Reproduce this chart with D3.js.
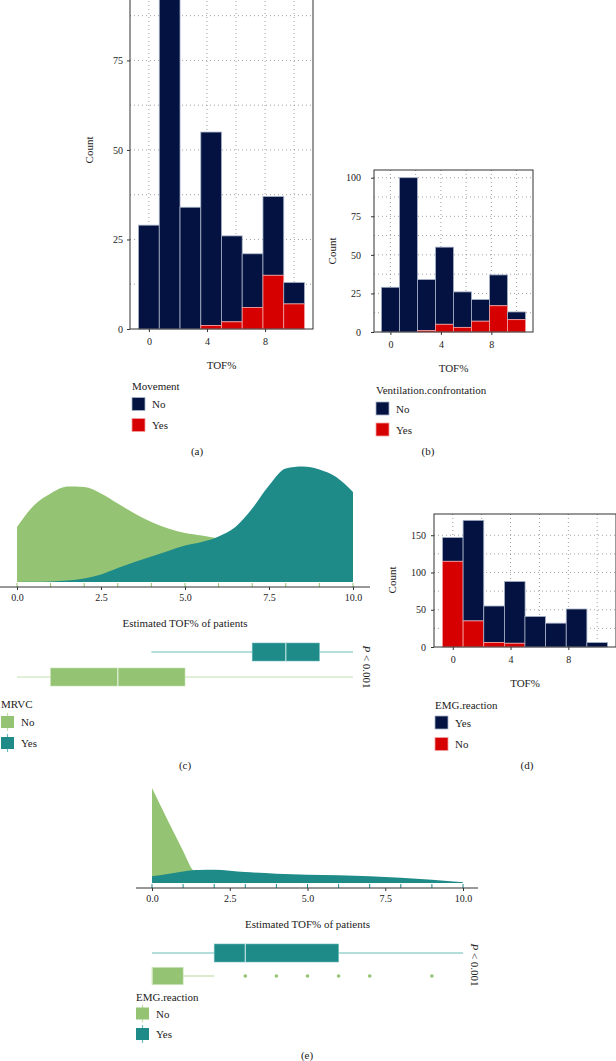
<!DOCTYPE html>
<html><head><meta charset="utf-8">
<script src="https://cdn.jsdelivr.net/npm/d3@7"></script>
<style>
body{margin:0;background:#fff}
svg{display:block}
text{font-family:"Liberation Serif","DejaVu Serif",serif;fill:#222}
</style>
</head><body>
<svg id="c" width="616" height="1061"></svg>
<script>
// ---------- data ----------
const binCenters = [0, 1.43, 2.86, 4.29, 5.71, 7.14, 8.57, 10];
const binWidth = 1.43;
const movementNo  = [29, 100, 34, 54, 24, 15, 22, 6];
const movementYes = [0, 0, 0, 1, 2, 6, 15, 7];
const ventNo  = [29, 100, 33, 50, 23, 14, 20, 5];
const ventYes = [0, 0, 1, 5, 3, 7, 17, 8];
const emgRedNo   = [115, 35, 6, 5, 0, 0, 0, 0];
const emgNavyYes = [32, 135, 49, 83, 41, 32, 51, 6];
const histXTicks = [0, 4, 8];
const histGridX = [0, 2, 4, 6, 8, 10];

const densXTicks = [0, 2.5, 5, 7.5, 10];
const rugValues = [0, 1, 2, 3, 4, 5, 6, 7, 8, 9, 10];

const mrvcX   = [0, 0.5, 1, 1.5, 2, 2.5, 3, 3.5, 4, 4.5, 5, 5.5, 6, 6.5, 7, 7.5, 8, 8.5, 9, 9.5, 10];
const mrvcNo  = [0.110, 0.153, 0.177, 0.191, 0.190, 0.177, 0.157, 0.137, 0.120, 0.107, 0.098, 0.093, 0.087, 0.080, 0.073, 0.069, 0.067, 0.065, 0.063, 0.061, 0.060];
const mrvcYes = [0, 0.0003, 0.001, 0.003, 0.007, 0.015, 0.028, 0.040, 0.051, 0.062, 0.073, 0.080, 0.091, 0.110, 0.147, 0.193, 0.227, 0.231, 0.225, 0.210, 0.180];
const mrvcBoxNo  = [0, 1, 3, 5, 10];
const mrvcBoxYes = [4, 7, 8, 9, 10];

const emgX   = [0, 0.5, 1, 1.3, 1.5, 2, 2.5, 3, 4, 5, 6, 7, 8, 9, 10];
const emgNo  = [0.95, 0.63, 0.32, 0.134, 0.08, 0.04, 0.02, 0.01, 0.005, 0.003, 0.002, 0.001, 0.001, 0.001, 0.001];
const emgYes = [0.067, 0.09, 0.115, 0.127, 0.13, 0.133, 0.123, 0.11, 0.093, 0.083, 0.077, 0.067, 0.053, 0.033, 0.007];
const emgBoxNo  = [0, 0, 0, 1, 2];
const emgBoxYes = [0, 2, 3, 6, 10];
const emgOutliersNo = [3, 4, 5, 6, 7, 9];

// ---------- styles ----------
const NAVY = "#031241", RED = "#d60000";
const GREEN = "#94c473", TEAL = "#1f8b89";
const svg = d3.select("#c");
svg.append("rect").attr("width", 616).attr("height", 1061).attr("fill", "#fff");

function txt(x, y, s, opts = {}) {
  const t = svg.append("text").attr("x", x).attr("y", y)
    .attr("font-size", opts.size || 11)
    .attr("text-anchor", opts.anchor || "start")
    .attr("dominant-baseline", "central")
    .text(s);
  if (opts.rotate) t.attr("transform", `rotate(${opts.rotate},${x},${y})`);
  return t;
}

function histogram(cfg) {
  const g = svg.append("g");
  const x = d3.scaleLinear().domain([-1.3, 11.3]).range([cfg.left, cfg.right]);
  const y = d3.scaleLinear().domain([0, cfg.ymax]).range([cfg.bottom, cfg.top]);
  g.selectAll(".vg").data(histGridX).join("line")
    .attr("x1", d => x(d)).attr("x2", d => x(d))
    .attr("y1", cfg.top).attr("y2", cfg.bottom)
    .attr("stroke", "#888").attr("stroke-width", 0.8).attr("stroke-dasharray", "1,3");
  g.selectAll(".hg").data(cfg.gridY).join("line")
    .attr("x1", cfg.left).attr("x2", cfg.right)
    .attr("y1", d => y(d)).attr("y2", d => y(d))
    .attr("stroke", "#888").attr("stroke-width", 0.8).attr("stroke-dasharray", "1,3");
  const bw = x(binWidth) - x(0);
  binCenters.forEach((c, i) => {
    const b = cfg.bottomSeries[i], t = cfg.topSeries[i];
    if (t > 0) g.append("rect").attr("x", x(c) - bw / 2).attr("width", bw)
      .attr("y", y(b + t)).attr("height", y(b) - y(b + t))
      .attr("fill", NAVY).attr("stroke", "#a8b3c8").attr("stroke-width", 0.8);
    if (b > 0) g.append("rect").attr("x", x(c) - bw / 2).attr("width", bw)
      .attr("y", y(b)).attr("height", y(0) - y(b))
      .attr("fill", RED).attr("stroke", "#f4a0a0").attr("stroke-width", 0.8);
  });
  g.append("rect").attr("x", cfg.left).attr("y", cfg.top)
    .attr("width", cfg.right - cfg.left).attr("height", cfg.bottom - cfg.top)
    .attr("fill", "none").attr("stroke", "#333").attr("stroke-width", 1);
  const ya = g.append("g").attr("transform", `translate(${cfg.left},0)`)
    .call(d3.axisLeft(y).tickValues(cfg.yTicks).tickSize(3).tickPadding(cfg.yPad || 4));
  const xa = g.append("g").attr("transform", `translate(0,${cfg.bottom})`)
    .call(d3.axisBottom(x).tickValues(histXTicks).tickSize(3).tickPadding(6));
  [ya, xa].forEach(a => {
    a.select(".domain").remove();
    a.selectAll("text").attr("font-size", 10).attr("font-family", "Liberation Serif").attr("fill", "#222");
    a.selectAll("line").attr("stroke", "#333");
  });
  txt((cfg.left + cfg.right) / 2, cfg.xTitleY, "TOF%", { anchor: "middle" });
  txt(cfg.countX, cfg.countY, "Count", { anchor: "middle", rotate: -90 });
}

function histLegend(x, yTitle, title, items) {
  txt(x, yTitle, title);
  items.forEach(it => {
    svg.append("rect").attr("x", x).attr("y", it.cy - 6.5).attr("width", 13).attr("height", 13)
      .attr("fill", it.color).attr("stroke", it.stroke).attr("stroke-width", 0.8);
    txt(x + 20, it.cy, it.label);
  });
}

// (a)
histogram({ left: 130, right: 313, top: -47, bottom: 329, ymax: 105,
  yTicks: [0, 25, 50, 75], gridY: [12.5, 25, 37.5, 50, 62.5, 75, 87.5, 100],
  bottomSeries: movementYes, topSeries: movementNo, xTitleY: 365, countX: 89, countY: 150 });
histLegend(132, 386, "Movement", [
  { cy: 404, color: NAVY, stroke: "#a8b3c8", label: "No" },
  { cy: 425, color: RED, stroke: "#f4a0a0", label: "Yes" }]);
txt(197, 451, "(a)", { anchor: "middle" });

// (b)
histogram({ left: 374, right: 533, top: 170, bottom: 332, ymax: 105,
  yTicks: [0, 25, 50, 75, 100], gridY: [12.5, 25, 37.5, 50, 62.5, 75, 87.5, 100], yPad: 10,
  bottomSeries: ventYes, topSeries: ventNo, xTitleY: 368, countX: 332, countY: 251 });
histLegend(376, 390, "Ventilation.confrontation", [
  { cy: 408.5, color: NAVY, stroke: "#a8b3c8", label: "No" },
  { cy: 429.5, color: RED, stroke: "#f4a0a0", label: "Yes" }]);
txt(428, 451, "(b)", { anchor: "middle" });

// (d)
histogram({ left: 434, right: 616, top: 514, bottom: 647, ymax: 178.5,
  yTicks: [0, 50, 100, 150], gridY: [25, 50, 75, 100, 125, 150], yPad: 5,
  bottomSeries: emgRedNo, topSeries: emgNavyYes, xTitleY: 683, countX: 392, countY: 580 });
histLegend(435, 705, "EMG.reaction", [
  { cy: 722.5, color: NAVY, stroke: "#a8b3c8", label: "Yes" },
  { cy: 744, color: RED, stroke: "#f4a0a0", label: "No" }]);
txt(527, 765, "(d)", { anchor: "middle" });

// ---------- density + boxplot panels ----------
function densityPanel(cfg) {
  const g = svg.append("g");
  const x = d3.scaleLinear().domain([0, 10]).range([cfg.x0, cfg.x1]);
  const y = d3.scaleLinear().domain([0, cfg.ymax]).range([cfg.base, cfg.base - cfg.ymax * cfg.pxPerUnit]);
  const area = (xs) => d3.area().x((d, i) => x(xs[i])).y0(y(0)).y1(d => y(d)).curve(d3.curveMonotoneX);
  g.append("path").datum(cfg.noVals).attr("d", area(cfg.xs)).attr("fill", GREEN);
  g.append("path").datum(cfg.yesVals).attr("d", area(cfg.xs)).attr("fill", TEAL);
  // rug
  g.selectAll(".rug").data(rugValues).join("line")
    .attr("x1", d => x(d)).attr("x2", d => x(d))
    .attr("y1", cfg.axisY - 4).attr("y2", cfg.axisY)
    .attr("stroke", cfg.rugColor).attr("stroke-width", 1);
  g.append("line").attr("x1", cfg.axisL).attr("x2", cfg.axisR)
    .attr("y1", cfg.axisY).attr("y2", cfg.axisY).attr("stroke", "#333").attr("stroke-width", 1);
  const xa = g.append("g").attr("transform", `translate(0,${cfg.axisY})`)
    .call(d3.axisBottom(x).tickValues(densXTicks).tickFormat(d3.format(".1f")).tickSize(3).tickPadding(4));
  xa.select(".domain").remove();
  xa.selectAll("text").attr("font-size", 10).attr("font-family", "Liberation Serif").attr("fill", "#222");
  xa.selectAll("line").attr("stroke", "#333");
  txt((cfg.x0 + cfg.x1) / 2, cfg.titleY, "Estimated TOF% of patients", { anchor: "middle" });

  // boxplots
  function box(stats, cy, h, fill, wcol, mcol) {
    g.append("line").attr("x1", x(stats[0])).attr("x2", x(stats[1])).attr("y1", cy).attr("y2", cy)
      .attr("stroke", wcol).attr("stroke-width", 1.2);
    g.append("line").attr("x1", x(stats[3])).attr("x2", x(stats[4])).attr("y1", cy).attr("y2", cy)
      .attr("stroke", wcol).attr("stroke-width", 1.2);
    g.append("rect").attr("x", x(stats[1])).attr("width", Math.max(x(stats[3]) - x(stats[1]), 0))
      .attr("y", cy - h / 2).attr("height", h).attr("fill", fill)
      .attr("stroke", wcol).attr("stroke-width", 0.6);
    g.append("line").attr("x1", x(stats[2])).attr("x2", x(stats[2]))
      .attr("y1", cy - h / 2).attr("y2", cy + h / 2).attr("stroke", mcol).attr("stroke-width", 1.2);
  }
  box(cfg.boxYes, cfg.yesY, 18, TEAL, "#6bbdba", "#bfe3e1");
  box(cfg.boxNo, cfg.noY, cfg.noH || 18, GREEN, "#c2e0ae", "#e6f3dc");
  if (cfg.outliers) g.selectAll(".out").data(cfg.outliers).join("circle")
    .attr("cx", d => x(d)).attr("cy", cfg.noY).attr("r", 1.8).attr("fill", GREEN);

  const p = svg.append("text").attr("x", cfg.pX).attr("y", cfg.pY)
    .attr("font-size", 11).attr("text-anchor", "middle").attr("dominant-baseline", "central")
    .attr("transform", `rotate(90,${cfg.pX},${cfg.pY})`);
  p.append("tspan").attr("font-style", "italic").text("P");
  p.append("tspan").text(" < 0.001");

  // legend
  txt(cfg.legX, cfg.legTitleY, cfg.legTitle);
  [[cfg.legNoY, GREEN, "#c2e0ae", "No"], [cfg.legYesY, TEAL, "#6bbdba", "Yes"]].forEach(([cy, f, l, lab]) => {
    svg.append("line").attr("x1", cfg.legX + 6.5).attr("x2", cfg.legX + 6.5)
      .attr("y1", cy - 9).attr("y2", cy + 9).attr("stroke", l).attr("stroke-width", 1.2);
    svg.append("rect").attr("x", cfg.legX).attr("y", cy - 6).attr("width", 13).attr("height", 12).attr("fill", f);
    txt(cfg.legX + 20, cy, lab);
  });
}

// (c)
densityPanel({ x0: 17, x1: 353, base: 582, ymax: 0.25, pxPerUnit: 500,
  xs: mrvcX, noVals: mrvcNo, yesVals: mrvcYes, rugColor: GREEN,
  axisY: 587, axisL: 0, axisR: 370, titleY: 623,
  boxNo: mrvcBoxNo, boxYes: mrvcBoxYes, yesY: 652, noY: 677,
  pX: 367, pY: 667,
  legX: 1, legTitle: "MRVC", legTitleY: 704, legNoY: 722, legYesY: 743 });
txt(185, 765, "(c)", { anchor: "middle" });

// (e)
densityPanel({ x0: 152, x1: 463, base: 883, ymax: 0.95, pxPerUnit: 100,
  xs: emgX, noVals: emgNo, yesVals: emgYes, rugColor: TEAL,
  axisY: 888, axisL: 136, axisR: 478, titleY: 924,
  boxNo: emgBoxNo, boxYes: emgBoxYes, yesY: 953, noY: 976, noH: 17, outliers: emgOutliersNo,
  pX: 475, pY: 965,
  legX: 136, legTitle: "EMG.reaction", legTitleY: 997, legNoY: 1013.5, legYesY: 1034 });
txt(307, 1055, "(e)", { anchor: "middle" });
</script>
</body></html>
